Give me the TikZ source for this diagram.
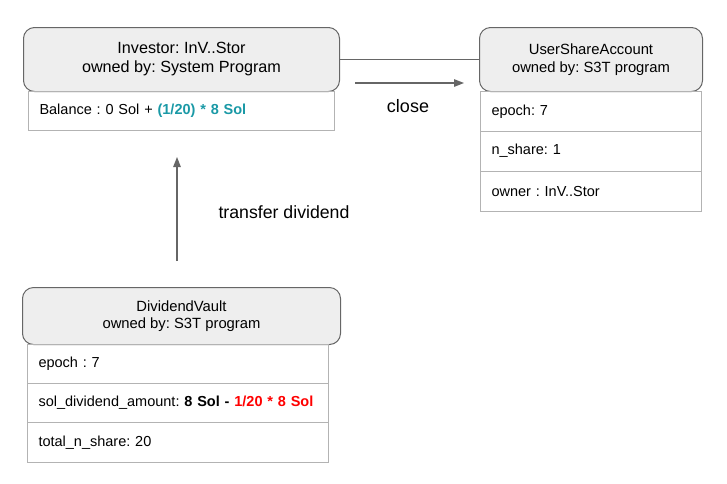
\documentclass[tikz,border=0pt]{standalone}
\usepackage{fontspec}
\setmainfont{Liberation Sans}
\usetikzlibrary{arrows.meta}
\definecolor{headfill}{HTML}{EEEEEE}
\definecolor{headline}{HTML}{666666}
\definecolor{rowline}{HTML}{B3B3B3}
\definecolor{linkgray}{HTML}{666666}
\definecolor{shareteal}{HTML}{1A99A6}
\definecolor{vaultred}{HTML}{FF0000}
\frenchspacing

\tikzset{
  header/.style={draw=headline, fill=headfill, line width=1pt, rounded corners=11pt,
    anchor=north west, align=center, inner sep=0pt},
  fieldrow/.style={draw=rowline, line width=1pt, anchor=north west, inner xsep=11pt,
    inner ysep=0pt, align=left, font=\fontsize{14.5}{17}\selectfont},
  link/.style={draw=linkgray, line width=1.3pt},
  linktip/.style={-{Triangle[length=10pt,width=7.5pt]}},
}

\begin{document}
\begin{tikzpicture}[x=1pt, y=-1pt]
        \useasboundingbox (0,0) rectangle (727,483);

        % Investor
        \node[header, minimum width=316pt, minimum height=64pt,
          font=\fontsize{16.2}{19}\selectfont] (investor) at (23,27)
          {Investor: InV..Stor\\owned by: System Program};
        \node[fieldrow, minimum height=39pt, text width=284pt] (balance) at (28,91)
          {Balance : 0 Sol + \textbf{\textcolor{shareteal}{(1/20) * 8 Sol}}};

        % UserShareAccount
        \node[header, minimum width=223pt, minimum height=64pt,
          font=\fontsize{14.8}{17.5}\selectfont] (usershare) at (479,27)
          {UserShareAccount\\owned by: S3T program};
        \node[fieldrow, minimum height=39.5pt, text width=199pt] (userepoch) at (480,91) {epoch: 7};
        \node[fieldrow, minimum height=40pt, text width=199pt] (nshare) at (480,130.5) {n\_share: 1};
        \node[fieldrow, minimum height=40.5pt, text width=199pt] (owner) at (480,170.5) {owner : InV..Stor};

        % DividendVault
        \node[header, minimum width=318pt, minimum height=57pt,
          font=\fontsize{14.8}{17.5}\selectfont] (vault) at (22,287)
          {DividendVault\\owned by: S3T program};
        \node[fieldrow, minimum height=39pt, text width=279pt] (vaultepoch) at (27,344) {epoch : 7};
        \node[fieldrow, minimum height=39pt, text width=279pt] (dividend) at (27,383)
          {sol\_dividend\_amount: \textbf{8 Sol - \textcolor{vaultred}{1/20 * 8 Sol}}};
        \node[fieldrow, minimum height=40pt, text width=279pt] (totalshare) at (27,422) {total\_n\_share: 20};

        % links
        \draw[link] (investor.east) -- (usershare.west);

        \coordinate (closefrom) at (355,83);
        \coordinate (closeto) at (464,83);
        \draw[link, linktip] (closefrom) -- (closeto);
        \node[font=\fontsize{18}{21}\selectfont] (closelabel) at (408,106) {close};

        \coordinate (transferfrom) at (177,261);
        \coordinate (transferto) at (177,157);
        \draw[link, linktip] (transferfrom) -- (transferto);
        \node[font=\fontsize{17.7}{21}\selectfont] (transferlabel) at (284,212) {transfer dividend};
\end{tikzpicture}
\end{document}
